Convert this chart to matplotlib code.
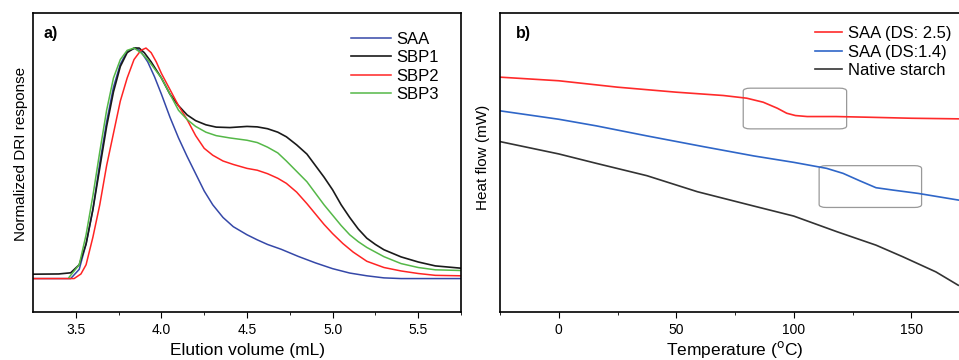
import matplotlib.pyplot as plt
from matplotlib.patches import FancyBboxPatch

plt.rcParams["font.family"] = ["Liberation Sans", "DejaVu Sans"]

# panel a) -- normalized DRI response vs elution volume
saa_x = [3.25, 3.47, 3.52, 3.56, 3.60, 3.64, 3.68, 3.72, 3.76, 3.80, 3.85, 3.88, 3.92, 3.96,
         4.00, 4.05, 4.10, 4.15, 4.20, 4.25, 4.30, 4.36, 4.42, 4.50, 4.56, 4.62, 4.70, 4.80,
         4.90, 5.00, 5.10, 5.20, 5.30, 5.40, 5.75]
saa_y = [0.0, 0.0, 0.04, 0.15, 0.30, 0.50, 0.68, 0.83, 0.93, 0.985, 1.0, 0.985, 0.94, 0.875,
         0.80, 0.70, 0.61, 0.53, 0.455, 0.38, 0.32, 0.265, 0.225, 0.19, 0.168, 0.148, 0.127, 0.096,
         0.068, 0.043, 0.024, 0.012, 0.003, 0.0, 0.0]

sbp1_x = [3.25, 3.40, 3.47, 3.52, 3.56, 3.60, 3.64, 3.68, 3.72, 3.76, 3.80, 3.84, 3.87, 3.90,
          3.94, 4.00, 4.05, 4.10, 4.15, 4.20, 4.26, 4.32, 4.40, 4.50, 4.56, 4.62, 4.68, 4.73,
          4.79, 4.85, 4.90, 4.95, 5.00, 5.05, 5.10, 5.15, 5.20, 5.25, 5.30, 5.40, 5.50, 5.60, 5.75]
sbp1_y = [0.019, 0.02, 0.025, 0.06, 0.15, 0.30, 0.48, 0.66, 0.81, 0.92, 0.98, 1.0, 1.0, 0.98,
          0.94, 0.87, 0.80, 0.75, 0.71, 0.685, 0.667, 0.657, 0.655, 0.66, 0.658, 0.65, 0.635, 0.615,
          0.58, 0.54, 0.49, 0.44, 0.385, 0.32, 0.265, 0.215, 0.175, 0.148, 0.125, 0.094, 0.072,
          0.055, 0.045]

sbp2_x = [3.25, 3.49, 3.53, 3.56, 3.60, 3.64, 3.68, 3.72, 3.76, 3.80, 3.84, 3.88, 3.91, 3.94,
          3.97, 4.00, 4.05, 4.10, 4.15, 4.20, 4.25, 4.30, 4.36, 4.42, 4.50, 4.56, 4.62, 4.68,
          4.73, 4.79, 4.85, 4.90, 4.95, 5.00, 5.06, 5.12, 5.20, 5.30, 5.40, 5.50, 5.60, 5.75]
sbp2_y = [0.0, 0.0, 0.02, 0.06, 0.18, 0.32, 0.49, 0.63, 0.77, 0.87, 0.95, 0.99, 1.0, 0.98,
          0.94, 0.89, 0.82, 0.75, 0.69, 0.62, 0.565, 0.535, 0.51, 0.495, 0.478, 0.47, 0.455, 0.435,
          0.413, 0.375, 0.325, 0.28, 0.235, 0.195, 0.152, 0.115, 0.075, 0.048, 0.033, 0.022,
          0.014, 0.012]

sbp3_x = [3.46, 3.52, 3.56, 3.60, 3.64, 3.68, 3.72, 3.76, 3.80, 3.84, 3.88, 3.92, 3.96, 4.00,
          4.05, 4.10, 4.15, 4.20, 4.26, 4.32, 4.40, 4.50, 4.56, 4.62, 4.68, 4.73, 4.79, 4.85,
          4.90, 4.95, 5.00, 5.05, 5.10, 5.15, 5.20, 5.30, 5.40, 5.50, 5.60, 5.75]
sbp3_y = [0.005, 0.06, 0.19, 0.36, 0.55, 0.73, 0.87, 0.95, 0.99, 1.0, 0.98, 0.95, 0.91, 0.87,
          0.80, 0.73, 0.69, 0.66, 0.635, 0.62, 0.61, 0.60, 0.59, 0.57, 0.545, 0.51, 0.465, 0.42,
          0.37, 0.32, 0.275, 0.23, 0.19, 0.16, 0.135, 0.095, 0.065, 0.048, 0.038, 0.035]

# panel b) -- DSC heat flow (arbitrary offset units)
ds25_t = [-25, 0, 25, 50, 70, 80, 87, 93, 97, 100.7, 105.7, 118, 132, 150, 170]
ds25_h = [234.3, 230.7, 224.3, 219.3, 216, 213.3, 209.3, 203.3, 198.3, 196, 195, 195, 194.3,
          193.3, 192.7]

ds14_t = [-25, 0, 16, 37.5, 61.5, 83, 100, 114, 121, 128, 135, 142, 153, 170]
ds14_h = [200.7, 192.3, 185.7, 175.7, 165, 155.7, 149.3, 143.3, 138.3, 131, 124, 121.7,
          118.3, 111.7]

native_t = [-25, 0, 16, 37.5, 59, 83, 100, 118.5, 135, 146.5, 160.5, 170]
native_h = [170, 157.7, 148.3, 136, 120, 105.7, 95.7, 80, 66.7, 55, 40, 26.7]

fig = plt.figure(figsize=(9.59, 3.6), dpi=100)

ax1 = fig.add_axes([33 / 959, 48 / 360, 428 / 959, 299 / 360])
ax1.plot(saa_x, saa_y, color="#3548a8", lw=1.1, label="SAA")
ax1.plot(sbp1_x, sbp1_y, color="#1a1a1a", lw=1.2, label="SBP1")
ax1.plot(sbp2_x, sbp2_y, color="#ff2424", lw=1.1, label="SBP2")
ax1.plot(sbp3_x, sbp3_y, color="#55b848", lw=1.1, label="SBP3")
ax1.set_xlim(3.25, 5.75)
ax1.set_ylim(-0.145, 1.152)
ax1.set_xticks([3.5, 4.0, 4.5, 5.0, 5.5])
ax1.set_xticks([3.75, 4.25, 4.75, 5.25, 5.75], minor=True)
ax1.set_yticks([])
ax1.set_xlabel("Elution volume (mL)", fontsize=12.5)
ax1.xaxis.set_label_coords(0.5, -0.105)
ax1.set_ylabel("Normalized DRI response", fontsize=11, va="center")
ax1.yaxis.set_label_coords(-0.028, 0.528)
ax1.text(0.024, 0.955, "a)", transform=ax1.transAxes, fontsize=11.5, fontweight="bold",
         va="top", ha="left")
ax1.legend(loc="upper left", bbox_to_anchor=(0.735, 0.948), frameon=False, fontsize=12,
           handlelength=2.4, handletextpad=0.35, labelspacing=0.2, borderaxespad=0,
           borderpad=0.2)

ax2 = fig.add_axes([500 / 959, 48 / 360, 470 / 959, 299 / 360])
ax2.plot(ds25_t, ds25_h, color="#ff2a2a", lw=1.2, label="SAA (DS: 2.5)")
ax2.plot(ds14_t, ds14_h, color="#2f66c8", lw=1.2, label="SAA (DS:1.4)")
ax2.plot(native_t, native_h, color="#333333", lw=1.2, label="Native starch")
ax2.set_xlim(-25, 175)
ax2.set_ylim(0, 298.3)
ax2.set_xticks([0, 50, 100, 150])
ax2.set_xticks([-25, 25, 75, 125, 175], minor=True)
ax2.set_yticks([])
ax2.set_xlabel("Temperature ($^{\\mathrm{o}}$C)", fontsize=12.5)
ax2.xaxis.set_label_coords(0.5, -0.09)
ax2.set_ylabel("Heat flow (mW)", fontsize=11, va="center")
ax2.yaxis.set_label_coords(-0.036, 0.518)
ax2.text(0.034, 0.955, "b)", transform=ax2.transAxes, fontsize=11.5, fontweight="bold",
         va="top", ha="left")
ax2.legend(loc="upper left", bbox_to_anchor=(0.664, 0.967), frameon=False, fontsize=12,
           handlelength=1.6, handletextpad=0.35, labelspacing=0.2, borderaxespad=0,
           borderpad=0.2)

for (x0, x1, y0, y1) in [(78.5, 122.5, 182.7, 223.3), (110.8, 154.4, 104.3, 146.0)]:
    ax2.add_patch(FancyBboxPatch((x0, y0), x1 - x0, y1 - y0,
                                 boxstyle="round,pad=0,rounding_size=3",
                                 facecolor="none", edgecolor="#999999", lw=0.9))

for ax in (ax1, ax2):
    for s in ax.spines.values():
        s.set_linewidth(1.2)
    ax.tick_params(axis="x", which="major", direction="out", length=4, labelsize=10, pad=4)
    ax.tick_params(axis="x", which="minor", direction="out", length=2.5)

fig.savefig("out.png", dpi=100)
